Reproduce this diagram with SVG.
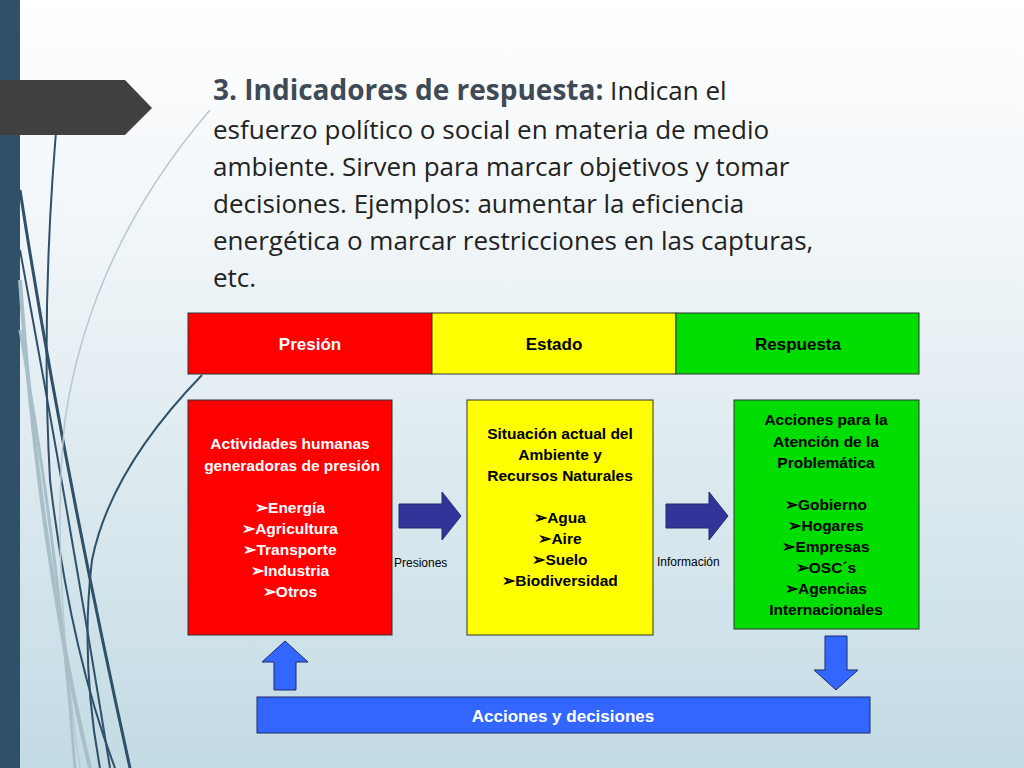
<svg xmlns="http://www.w3.org/2000/svg" width="1024" height="768" viewBox="0 0 1024 768">
<defs>
<linearGradient id="bg" x1="0" y1="0" x2="0" y2="1"><stop offset="0" stop-color="#ffffff"/><stop offset="0.35" stop-color="#eef4f7"/><stop offset="1" stop-color="#c3dbe4"/></linearGradient>
</defs>
<style>
.h{font-family:"Liberation Sans",Arial,sans-serif;font-weight:bold;font-size:17px;text-anchor:middle}
.b{font-family:"Liberation Sans",Arial,sans-serif;font-weight:bold;font-size:15.5px;text-anchor:middle}
.s{font-family:"Liberation Sans",Arial,sans-serif;font-size:12px}
.t{font-family:"Open Sans","Liberation Sans",sans-serif;font-size:26px;fill:#222}
.bx{stroke:#333;stroke-width:1}
.ar{fill:#333399;stroke:#1f2a6b;stroke-width:1}
.ab{fill:#3366ff;stroke:#1f2a6b;stroke-width:1}
</style>
<rect width="1024" height="768" fill="url(#bg)"/>
<rect x="0" y="0" width="20" height="768" fill="#2e5068"/>
<g fill="none">
<path d="M59 98 Q40 300 50 480 Q70 650 115 768" stroke="#2e5068" stroke-width="2"/>
<path d="M20 190 Q60 450 130 768" stroke="#2e5068" stroke-width="3"/>
<path d="M20 250 Q70 520 110 768" stroke="#2e5068" stroke-width="2"/>
<path d="M210 110 Q90 250 65 420 Q50 560 80 768" stroke="#b8c8d0" stroke-width="1.5"/>
<path d="M20 280 Q40 560 90 768" stroke="#a8bec8" stroke-width="4"/>
<path d="M20 330 Q60 560 75 768" stroke="#a8bec8" stroke-width="3"/>
<path d="M202 375 Q110 470 92 560 Q80 660 100 768" stroke="#2e5068" stroke-width="2"/>
</g>
<path d="M0 80 H125 L152 108 L125 135 H0 Z" fill="#404040"/>
<text class="t"><tspan x="213" y="100"><tspan font-weight="bold" fill="#3f4a56" font-size="28">3. Indicadores de respuesta:</tspan> Indican el</tspan><tspan x="213" y="139">esfuerzo político o social en materia de medio</tspan><tspan x="213" y="176">ambiente. Sirven para marcar objetivos y tomar</tspan><tspan x="213" y="213">decisiones. Ejemplos: aumentar la eficiencia</tspan><tspan x="213" y="250">energética o marcar restricciones en las capturas,</tspan><tspan x="213" y="287">etc.</tspan></text>
<g id="header">
<rect class="bx" x="188" y="313" width="244" height="61" fill="#ff0000"/>
<rect class="bx" x="432" y="313" width="244" height="61" fill="#ffff00"/>
<rect class="bx" x="676" y="313" width="243" height="61" fill="#00dd00"/>
<text class="h" x="310" y="350" fill="#fff">Presión</text>
<text class="h" x="554" y="350" fill="#000">Estado</text>
<text class="h" x="798" y="350" fill="#000">Respuesta</text>
</g>
<g id="presion">
<rect class="bx" x="188" y="400" width="204" height="235" fill="#ff0000"/>
<text class="b" fill="#fff"><tspan x="290" y="449">Actividades humanas</tspan><tspan x="292" y="471">generadoras de presión</tspan><tspan x="290" y="513">➢Energía</tspan><tspan x="290" y="534">➢Agricultura</tspan><tspan x="290" y="555">➢Transporte</tspan><tspan x="290" y="576">➢Industria</tspan><tspan x="290" y="597">➢Otros</tspan></text>
</g>
<g id="estado">
<rect class="bx" x="467" y="400" width="186" height="235" fill="#ffff00"/>
<text class="b" fill="#000"><tspan x="560" y="439">Situación actual del</tspan><tspan x="560" y="460">Ambiente y</tspan><tspan x="560" y="481">Recursos Naturales</tspan><tspan x="560" y="523">➢Agua</tspan><tspan x="560" y="544">➢Aire</tspan><tspan x="560" y="565">➢Suelo</tspan><tspan x="560" y="586">➢Biodiversidad</tspan></text>
</g>
<g id="respuesta">
<rect class="bx" x="734" y="400" width="185" height="229" fill="#00dd00"/>
<text class="b" fill="#000"><tspan x="826" y="425">Acciones para la</tspan><tspan x="826" y="447">Atención de la</tspan><tspan x="826" y="468">Problemática</tspan><tspan x="826" y="510">➢Gobierno</tspan><tspan x="826" y="531">➢Hogares</tspan><tspan x="826" y="552">➢Empresas</tspan><tspan x="826" y="573">➢OSC´s</tspan><tspan x="826" y="594">➢Agencias</tspan><tspan x="826" y="615">Internacionales</tspan></text>
</g>
<g id="acciones">
<rect x="257" y="697" width="613" height="36" fill="#3366ff" stroke="#1f2a6b"/>
<text class="h" x="563" y="722" fill="#fff">Acciones y decisiones</text>
</g>
<g id="connectors">
<path class="ar" d="M399 504 H442 V492 L461 516 L442 540 V528 H399 Z"/>
<path class="ar" d="M666 504 H709 V492 L728 516 L709 540 V528 H666 Z"/>
<path class="ab" d="M274 690 V662 H262 L285 641 L308 662 H296 V690 Z"/>
<path class="ab" d="M825 636 V670 H814 L836 690 L858 670 H847 V636 Z"/>
<text class="s" x="394" y="567">Presiones</text>
<text class="s" x="657" y="566">Información</text>
</g>
</svg>
